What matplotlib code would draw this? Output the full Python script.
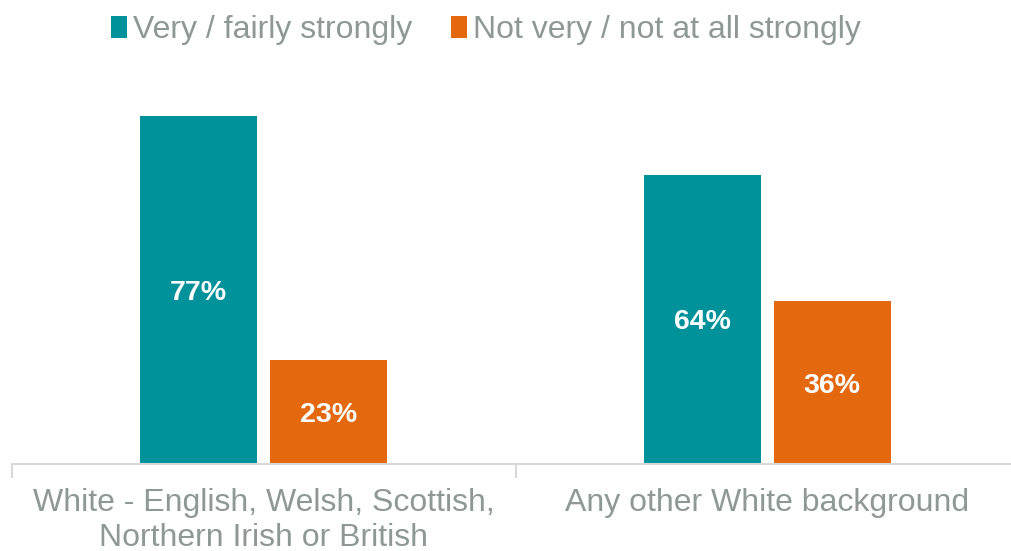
import matplotlib
matplotlib.use("Agg")
import matplotlib.pyplot as plt
import numpy as np

plt.rcParams['font.family'] = ['Liberation Sans', 'DejaVu Sans']

categories = ["White - English, Welsh, Scottish,\nNorthern Irish or British", "Any other White background"]
series_names = ["Very / fairly strongly", "Not very / not at all strongly"]
very_fairly = [77, 64]
not_very = [23, 36]
colors = ["#00929B", "#E4680E"]
text_gray = "#8E9995"

fig = plt.figure(figsize=(10.12, 5.51), dpi=100)
ax = fig.add_axes([12/1012, 87/551, 1007/1012, 384/551])

x = np.arange(len(categories))
w = 0.233
off = 0.129
b1 = ax.bar(x - off, very_fairly, w, color=colors[0], label=series_names[0])
b2 = ax.bar(x + off, not_very, w, color=colors[1], label=series_names[1])

for bars, vals in ((b1, very_fairly), (b2, not_very)):
    for r, v in zip(bars, vals):
        ax.text(r.get_x() + r.get_width()/2, v/2, f"{v}%", ha='center', va='center_baseline',
                color='white', fontsize=20.5, fontweight='bold')

ax.set_xlim(-0.5, 1.5)
ax.set_ylim(0, 85)
ax.set_yticks([])
for s in ['top', 'right', 'left']:
    ax.spines[s].set_visible(False)
ax.spines['bottom'].set_color('#D9D9D9')
ax.spines['bottom'].set_linewidth(1.5)
ax.set_xticks([-0.5, 0.5, 1.5], minor=False)
ax.set_xticklabels([])
ax.tick_params(axis='x', which='major', length=10, color='#D9D9D9', width=1.5)
ax.set_xticks(x, minor=True)
ax.set_xticklabels(categories, minor=True, fontsize=23, color=text_gray, linespacing=1.22)
ax.tick_params(axis='x', which='minor', length=0, pad=17)

leg = fig.legend(handles=[b1, b2], labels=series_names, loc='upper center',
                 bbox_to_anchor=(0.48, 1.025), ncol=2, frameon=False,
                 fontsize=23, handlelength=0.5, handleheight=0.7,
                 handletextpad=0.2, columnspacing=1.2, labelcolor=text_gray)

fig.savefig("out.png", dpi=100)
